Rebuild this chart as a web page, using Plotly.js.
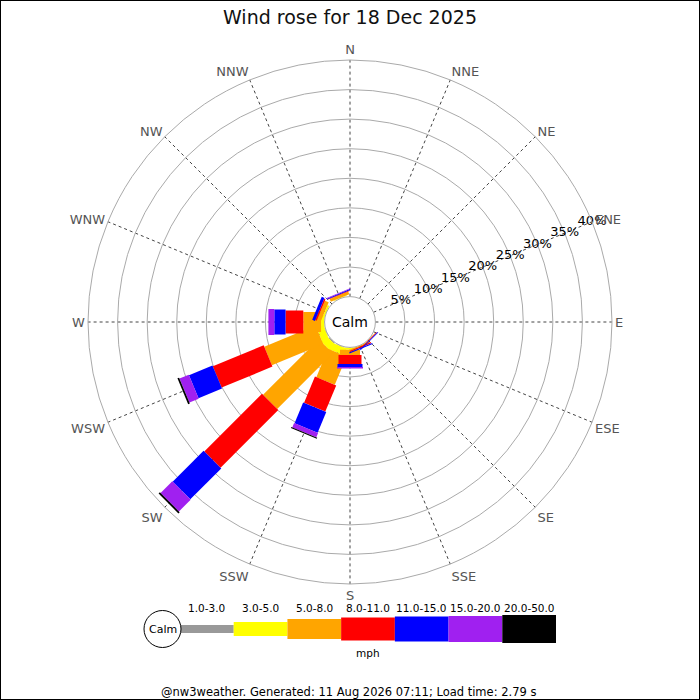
<!DOCTYPE html>
<html>
<head>
<meta charset="utf-8">
<script src="https://cdn.plot.ly/plotly-3.0.1.min.js"></script>
<style>html,body{margin:0;padding:0;background:#fff;}#chart{width:700px;height:700px;}</style>
</head>
<body>
<div id="chart"></div>
<script>
// ---- data (percent of observations) ----
const directions = ["N","NNE","NE","ENE","E","ESE","SE","SSE","S","SSW","SW","WSW","W","WNW","NW","NNW"];
const speedClasses = ["1.0-3.0","3.0-5.0","5.0-8.0","8.0-11.0","11.0-15.0","15.0-20.0","20.0-50.0"];
//                 N  NNE NE ENE E ESE  SE   SSE  S    SSW  SW   WSW  W    WNW  NW  NNW
const pct_1_3   = [0, 0, 0, 0, 0, 0,   0,   0,   0,   0.1, 0.2, 0.1, 0,   0,   0,  0];
const pct_3_5   = [0, 0, 0, 0, 0, 0,   0,   0,   0.4, 1.2, 1.3, 1.2, 0.6, 0.3, 0,  0.1];
const pct_5_8   = [0, 0, 0, 0, 0, 0,   0.1, 0.2, 0.9, 5.2, 13.3,9.4, 3.0, 0.7, 0,  0.5];
const pct_8_11  = [0, 0, 0, 0, 0, 0,   0.1, 0.2, 1.5, 4.8, 13.8,9.3, 3.0, 0.25,0,  0.1];
const pct_11_15 = [0, 0, 0, 0, 0, 0,   0.15,0.2, 0.5, 3.8, 7.4, 4.3, 1.9, 0.5, 0,  0.15];
const pct_15_20 = [0, 0, 0, 0, 0, 0,   0,   0,   0.25,0.8, 2.8, 1.7, 1.0, 0,   0,  0.1];
const pct_20_50 = [0, 0, 0, 0, 0, 0,   0,   0,   0,   0.2, 0.3, 0.3, 0,   0,   0,  0];
const radialTicks = [5,10,15,20,25,30,35,40];
const radialTickLabels = ["5%","10%","15%","20%","25%","30%","35%","40%"];
const titleText = "Wind rose for 18 Dec 2025";
const footerText = "@nw3weather. Generated: 11 Aug 2026 07:11; Load time: 2.79 s";
const unitText = "mph";

// ---- styles ----
const classColors = ["#999999","#ffff00","#ffa500","#ff0000","#0000ff","#a020f0","#000000"];
const classWidths = [8,14,20,23,25,26,28];
const font = "DejaVu Sans";
const series = [pct_1_3,pct_3_5,pct_5_8,pct_8_11,pct_11_15,pct_15_20,pct_20_50];

const W = 700, H = 700;
const cx = 350, cy = 322, R = 262, holePx = 25.4;
const px = v => v / W, py = v => 1 - v / H;

const traces = [];
const cum = directions.map(() => 0);
series.forEach((vals, k) => {
  const r = [], th = [];
  vals.forEach((v, i) => {
    if (v > 0) {
      r.push(cum[i], cum[i] + v, null);
      th.push(directions[i], directions[i], null);
    }
    cum[i] += v;
  });
  traces.push({
    type: "scatterpolar", mode: "lines", r: r, theta: th,
    line: {color: classColors[k], width: classWidths[k]},
    connectgaps: false, hoverinfo: "skip", showlegend: false
  });
});
// radial tick labels along ENE
traces.push({
  type: "scatterpolar", mode: "text",
  r: radialTicks, theta: radialTicks.map(() => "ENE"),
  text: radialTickLabels, textposition: "middle center",
  textfont: {family: font, size: 13, color: "#000"},
  hoverinfo: "skip", showlegend: false
});
// legend bar
speedClasses.forEach((c, k) => {
  traces.push({
    type: "scatter", mode: "lines", x: [k, k + 1], y: [0, 0],
    xaxis: "x", yaxis: "y",
    line: {color: classColors[k], width: classWidths[k]},
    hoverinfo: "skip", showlegend: false
  });
});

const ann = (o) => Object.assign({showarrow: false, xanchor: "center", yanchor: "middle"}, o);
const annotations = [
  ann({text: "Calm", x: px(cx), y: py(cy), xref: "paper", yref: "paper",
   font: {family: font, size: 14, color: "#000"}}),
  ann({text: "Calm", x: px(162.5), y: py(629), xref: "paper", yref: "paper",
   font: {family: font, size: 11, color: "#000"}}),
  ann({text: unitText, x: 3.5, xref: "x", y: py(653), yref: "paper",
   font: {family: font, size: 10.5, color: "#000"}}),
  ann({text: footerText, x: px(348), y: py(692), xref: "paper", yref: "paper",
   font: {family: font, size: 11.5, color: "#000"}})
];
speedClasses.forEach((c, k) => annotations.push(ann({
  text: c, x: k + 0.5, xref: "x", y: py(607.5), yref: "paper",
  font: {family: font, size: 10.5, color: "#000"}
})));

const layout = {
  width: W, height: H,
  margin: {l: 0, r: 0, t: 0, b: 0},
  paper_bgcolor: "#fff",
  showlegend: false,
  title: {text: titleText, x: 0.5, xref: "paper", y: py(17), yref: "paper",
          xanchor: "center", yanchor: "middle",
          font: {family: font, size: 19, color: "#111"}},
  polar: {
    domain: {x: [px(cx - R), px(cx + R)], y: [py(cy + R), py(cy - R)]},
    hole: holePx / R,
    bgcolor: "#fff",
    radialaxis: {range: [0, 40], tickvals: [0].concat(radialTicks), showticklabels: false,
                 ticks: "", showline: false, gridcolor: "#aaaaaa", gridwidth: 1},
    angularaxis: {type: "category", categoryarray: directions, categoryorder: "array",
                  rotation: 90, direction: "clockwise", ticks: "",
                  tickfont: {family: font, size: 13, color: "#555"},
                  gridcolor: "#444", griddash: "dot", gridwidth: 1,
                  showline: true, linecolor: "#aaaaaa", linewidth: 1}
  },
  xaxis: {domain: [px(180), px(556)], range: [0, 7], visible: false, fixedrange: true},
  yaxis: {domain: [py(659), py(599)], range: [-1, 1], visible: false, fixedrange: true},
  shapes: [
    {type: "circle", xref: "paper", yref: "paper", x0: px(144), x1: px(181), y0: py(647.5), y1: py(610.5),
     line: {color: "#000", width: 1}, fillcolor: "#fff", layer: "above"},
    {type: "rect", xref: "paper", yref: "paper", x0: 0, x1: 1, y0: 0, y1: 1,
     line: {color: "#000", width: 2}}
  ],
  annotations: annotations
};

Plotly.newPlot("chart", traces, layout, {staticPlot: true, displayModeBar: false});
</script>
</body>
</html>
